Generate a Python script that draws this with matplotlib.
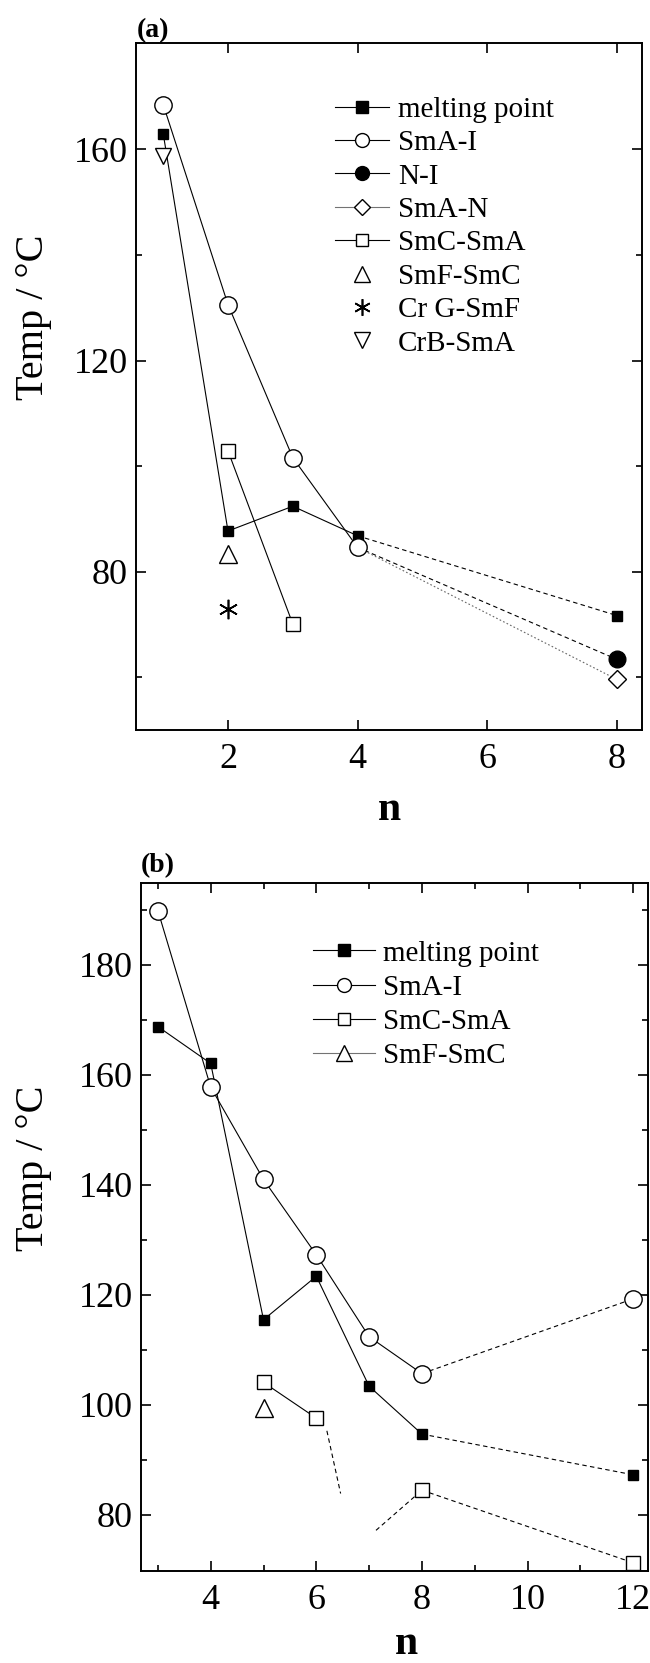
"""Transition temperatures vs n, panels (a) and (b)"""

import matplotlib
matplotlib.use('Agg')
import numpy as np
from matplotlib import pyplot as plt
from matplotlib.lines import Line2D
from matplotlib.ticker import FixedLocator

plt.rcParams['font.family'] = ['Liberation Serif', 'DejaVu Serif']
plt.rcParams['mathtext.fontset'] = 'stix'

# ---- panel (a) data ----
n_melt_a = [1, 2, 3, 4, 8]
melt_a = [163.0, 87.7, 92.4, 86.8, 71.7]
n_smai_a = [1, 2, 3, 4]
smai_a = [168.5, 130.6, 101.6, 84.6]
n_ni_a = [4, 8]
ni_a = [84.6, 63.4]
n_sman_a = [4, 8]
sman_a = [84.6, 59.6]
n_smcsma_a = [2, 3]
smcsma_a = [102.9, 70.1]
n_smfsmc_a = [2]
smfsmc_a = [83.3]
n_crgsmf_a = [2]
crgsmf_a = [72.9]
n_crbsma_a = [1]
crbsma_a = [158.7]
labels_a = ['melting point', 'SmA-I', 'N-I', 'SmA-N', 'SmC-SmA',
            'SmF-SmC', 'Cr G-SmF', 'CrB-SmA']

# ---- panel (b) data ----
n_b = [3, 4, 5, 6, 7, 8, 12]
melt_b = [168.8, 162.1, 115.5, 123.4, 103.4, 94.7, 87.3]
smai_b = [189.9, 157.8, 141.0, 127.3, 112.4, 105.7, 119.3]
n_smcsma_b = [5, 6, 8, 12]
smcsma_b = [104.1, 97.6, 84.5, 71.3]
n_smfsmc_b = [5]
smfsmc_b = [99.4]
# loose dashed pieces of the SmC-SmA curve between n=6 and n=8
frag1_n = [6.20, 6.46]
frag1_t = [95.3, 83.9]
frag2_n = [7.13, 8.0]
frag2_t = [77.2, 84.5]
labels_b = ['melting point', 'SmA-I', 'SmC-SmA', 'SmF-SmC']

LW = 0.8
DASH = (0, (4, 3))
DOT = (0, (1.5, 2))
MS_SQ = 7
MS_O = 12.5
MS_OSQ = 10
TICK_FS = 26
LEG_FS = 21


def style_axes(ax):
    for sp in ax.spines.values():
        sp.set_linewidth(1.4)
    ax.tick_params(which='both', direction='in', top=True, right=True,
                   width=1.2, labelsize=TICK_FS)
    ax.tick_params(axis='x', which='both', pad=9)
    ax.tick_params(axis='y', which='both', pad=6)
    ax.tick_params(which='major', length=7.5)
    ax.tick_params(which='minor', length=4.5)


fig = plt.figure(figsize=(6.5, 16.63), dpi=100)

# ================= panel (a) =================
ax = fig.add_axes([0.2092, 0.5610, 0.7785, 0.4133])
ax.plot(n_melt_a[:4], melt_a[:4], '-', color='k', lw=LW)
ax.plot(n_melt_a[3:], melt_a[3:], color='k', lw=LW, linestyle=DASH)
ax.plot(n_smai_a, smai_a, '-', color='k', lw=LW)
ax.plot(n_ni_a, ni_a, color='k', lw=LW, linestyle=DASH)
ax.plot(n_sman_a, sman_a, color='0.4', lw=LW, linestyle=DOT)
ax.plot(n_smcsma_a, smcsma_a, '-', color='k', lw=LW)

ax.plot(n_crbsma_a, crbsma_a, 'v', ms=12, mfc='white', mec='k', mew=1)
ax.plot(n_melt_a, melt_a, 's', ms=MS_SQ, color='k', zorder=4)
ax.plot(n_smai_a, smai_a, 'o', ms=MS_O, mfc='white', mec='k', mew=1, zorder=4)
ax.plot(n_ni_a[1:], ni_a[1:], 'o', ms=12, color='k', zorder=4)
ax.plot(n_sman_a[1:], sman_a[1:], 'D', ms=9.5, mfc='white', mec='k', mew=1, zorder=4)
ax.plot(n_smcsma_a, smcsma_a, 's', ms=MS_OSQ, mfc='white', mec='k', mew=1, zorder=4)
ax.plot(n_smfsmc_a, smfsmc_a, '^', ms=13, mfc='white', mec='k', mew=1, zorder=4)
ax.plot(n_crgsmf_a, crgsmf_a, marker=(6, 2, 0), ms=14, color='k', mew=1.2, ls='none')

ax.set_xlim(0.58, 8.39)
ax.set_ylim(50, 180.2)
ax.xaxis.set_major_locator(FixedLocator([2, 4, 6, 8]))
ax.yaxis.set_major_locator(FixedLocator([80, 120, 160]))
ax.yaxis.set_minor_locator(FixedLocator([60, 100, 140]))
style_axes(ax)
ax.set_xlabel('n', fontsize=30, fontweight='bold')
ax.xaxis.set_label_coords(0.5, -0.088)
ax.set_ylabel('Temp / °C', fontsize=29)
ax.yaxis.set_label_coords(-0.166, 0.6)
ax.text(0.002, 0.999, '(a)', transform=ax.transAxes, fontsize=20,
        fontweight='bold', ha='left', va='bottom')

handles_a = [
    Line2D([], [], color='k', lw=LW, marker='s', ms=MS_SQ + 2),
    Line2D([], [], color='k', lw=LW, marker='o', ms=10, mfc='white', mec='k'),
    Line2D([], [], color='k', lw=LW, marker='o', ms=10),
    Line2D([], [], color='0.45', lw=LW, marker='D', ms=8, mfc='white', mec='k'),
    Line2D([], [], color='k', lw=LW, marker='s', ms=9, mfc='white', mec='k'),
    Line2D([], [], ls='none', marker='^', ms=11, mfc='white', mec='k'),
    Line2D([], [], ls='none', marker=(6, 2, 0), ms=12, color='k', mew=1.2),
    Line2D([], [], ls='none', marker='v', ms=11, mfc='white', mec='k'),
]
ax.legend(handles_a, labels_a, loc='upper left', bbox_to_anchor=(0.394, 0.922),
          frameon=False, fontsize=LEG_FS, handlelength=1.85, handletextpad=0.3,
          labelspacing=0.24, borderpad=0, borderaxespad=0)

# ================= panel (b) =================
ax = fig.add_axes([0.2169, 0.0553, 0.7800, 0.4137])
ax.plot(n_b[:6], melt_b[:6], '-', color='k', lw=LW)
ax.plot(n_b[5:], melt_b[5:], color='k', lw=LW, linestyle=DASH)
ax.plot(n_b[:6], smai_b[:6], '-', color='k', lw=LW)
ax.plot(n_b[5:], smai_b[5:], color='k', lw=LW, linestyle=DASH)
ax.plot(n_smcsma_b[:2], smcsma_b[:2], '-', color='k', lw=LW)
ax.plot(n_smcsma_b[2:], smcsma_b[2:], color='k', lw=LW, linestyle=DASH)
ax.plot(frag1_n, frag1_t, color='k', lw=LW, linestyle=DASH)
ax.plot(frag2_n, frag2_t, color='k', lw=LW, linestyle=DASH)

ax.plot(n_b, melt_b, 's', ms=MS_SQ, color='k', zorder=4)
ax.plot(n_b, smai_b, 'o', ms=MS_O, mfc='white', mec='k', mew=1, zorder=4)
ax.plot(n_smcsma_b, smcsma_b, 's', ms=MS_OSQ, mfc='white', mec='k', mew=1, zorder=4)
ax.plot(n_smfsmc_b, smfsmc_b, '^', ms=13, mfc='white', mec='k', mew=1, zorder=4)

ax.set_xlim(2.68, 12.28)
ax.set_ylim(69.8, 194.9)
ax.xaxis.set_major_locator(FixedLocator(np.arange(4, 13, 2)))
ax.xaxis.set_minor_locator(FixedLocator(np.arange(3, 12, 2)))
ax.yaxis.set_major_locator(FixedLocator(np.arange(80, 181, 20)))
ax.yaxis.set_minor_locator(FixedLocator(np.arange(90, 191, 20)))
style_axes(ax)
ax.set_xlabel('n', fontsize=30, fontweight='bold')
ax.xaxis.set_label_coords(0.523, -0.079)
ax.set_ylabel('Temp / °C', fontsize=29)
ax.yaxis.set_label_coords(-0.176, 0.586)
ax.text(0.0, 1.007, '(b)', transform=ax.transAxes, fontsize=20,
        fontweight='bold', ha='left', va='bottom')

handles_b = [
    Line2D([], [], color='k', lw=LW, marker='s', ms=MS_SQ + 2),
    Line2D([], [], color='k', lw=LW, marker='o', ms=10, mfc='white', mec='k'),
    Line2D([], [], color='k', lw=LW, marker='s', ms=9, mfc='white', mec='k'),
    Line2D([], [], color='0.45', lw=LW, marker='^', ms=11, mfc='white', mec='k'),
]
ax.legend(handles_b, labels_b, loc='upper left', bbox_to_anchor=(0.34, 0.917),
          frameon=False, fontsize=LEG_FS, handlelength=2.1, handletextpad=0.3,
          labelspacing=0.27, borderpad=0, borderaxespad=0)

fig.savefig('out.png', dpi=100)
